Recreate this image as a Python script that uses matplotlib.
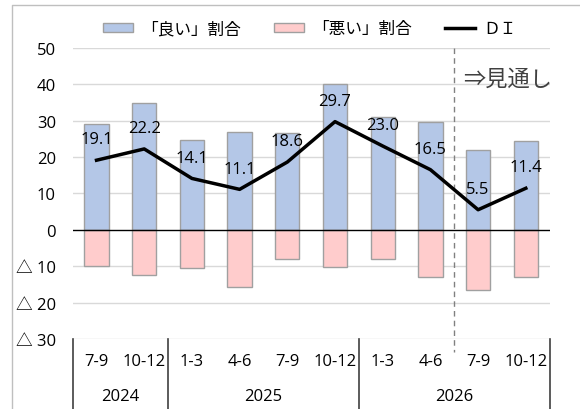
import numpy as np
import matplotlib
matplotlib.use("Agg")
import matplotlib.pyplot as plt
from matplotlib.lines import Line2D
from matplotlib.patches import Patch
import matplotlib.transforms as mtrans

plt.rcParams['font.family'] = ['Open Sans', 'Noto Sans CJK JP', 'DejaVu Sans']
JP = ['Noto Sans CJK JP', 'DejaVu Sans']

# data
periods = ['7-9', '10-12', '1-3', '4-6', '7-9', '10-12', '1-3', '4-6', '7-9', '10-12']
years = ['2024', '2025', '2026']
year_spans = [(0, 2), (2, 6), (6, 10)]
good = [29.0, 34.7, 24.6, 26.8, 26.6, 39.9, 31.1, 29.5, 22.0, 24.3]
bad = [-9.9, -12.5, -10.5, -15.7, -8.0, -10.2, -8.1, -13.0, -16.5, -12.9]
di = [19.1, 22.2, 14.1, 11.1, 18.6, 29.7, 23.0, 16.5, 5.5, 11.4]
yticks = [50, 40, 30, 20, 10, 0, -10, -20, -30]

blue = '#B4C7E7'
pink = '#FFCCCC'
edge = '#A0A0A0'
fs = 12

fig = plt.figure(figsize=(5.8, 4.1), dpi=100)
ax = fig.add_axes([0.1253, 0.1707, 0.8224, 0.7105])

x = np.arange(len(periods))
ax.bar(x, good, width=0.51, color=blue, edgecolor=edge, linewidth=1, zorder=2)
ax.bar(x, bad, width=0.51, color=pink, edgecolor=edge, linewidth=1, zorder=2)
ax.plot(x, di, color='black', linewidth=2.5, zorder=4)
for xi, v in zip(x, di):
    ax.annotate(f'{v:.1f}', (xi, v), xytext=(0, 15), textcoords='offset points',
                ha='center', va='center', fontsize=fs, zorder=5)

ax.set_xlim(-0.5, len(periods) - 0.5)
ax.set_ylim(-30, 50)
ax.set_yticks(yticks)
ax.set_yticklabels([str(t) if t >= 0 else '△ ' + str(-t) for t in yticks], fontsize=fs)
ax.tick_params(axis='y', length=0, pad=12)
for t in yticks:
    if t == 0:
        ax.axhline(0, color='black', linewidth=1, zorder=3)
    else:
        ax.axhline(t, color='#D9D9D9', linewidth=1, zorder=1)
for s in ax.spines.values():
    s.set_visible(False)

# two-level category axis
ax.set_xticks([])
tr = mtrans.blended_transform_factory(ax.transData, ax.transAxes)
for xi, p in zip(x, periods):
    ax.text(xi, -0.075, p, transform=tr, ha='center', va='center', fontsize=fs)
for (a, b), yr in zip(year_spans, years):
    ax.text((a + b - 1) / 2, -0.195, yr, transform=tr, ha='center', va='center', fontsize=fs)
for a in [0, 2, 6, 10]:
    ax.plot([a - 0.5, a - 0.5], [0, -0.245], transform=tr, color='#404040',
            linewidth=1.2, clip_on=False)

# forecast divider
ax.plot([7.5, 7.5], [50, -33.5], color='#808080', linewidth=1, linestyle=(0, (4, 3)),
        clip_on=False, zorder=3)
ax.text(7.68, 41.7, '⇒見通し', ha='left', va='center', fontsize=16, color='#404040',
        family=JP)

handles = [Patch(facecolor=blue, edgecolor=edge), Patch(facecolor=pink, edgecolor=edge),
           Line2D([], [], color='black', linewidth=2.5)]
fig.legend(handles, ['「良い」割合', '「悪い」割合', 'ＤＩ'], ncol=3, loc='center',
           bbox_to_anchor=(0.534, 0.927), frameon=False,
           prop={'family': JP, 'size': 12},
           handlelength=1.8, handleheight=0.4, handletextpad=0.5, columnspacing=2.0)

# outer chart border
fig.add_artist(Line2D([12 / 580, 12 / 580, 1.0], [0.0, 1 - 6 / 410, 1 - 6 / 410],
                      transform=fig.transFigure, color='#BFBFBF', linewidth=1))

fig.savefig('out.png', dpi=100)
